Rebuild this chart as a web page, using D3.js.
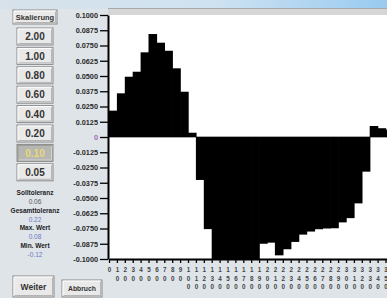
<!DOCTYPE html>
<html>
<head>
<meta charset="utf-8">
<script src="https://cdn.jsdelivr.net/npm/d3@7"></script>
<style>
  html, body { margin: 0; padding: 0; background: #dfe4e9; overflow: hidden; }
  svg { display: block; font-family: "Liberation Sans", Arial, sans-serif; }
</style>
</head>
<body>
<div id="chart"></div>
<script>
// angle categories (x) and the deviation per category
var angles = [0, 10, 20, 30, 40, 50, 60, 70, 80, 90, 100, 110, 120, 130, 140, 150, 160, 170,
  180, 190, 200, 210, 220, 230, 240, 250, 260, 270, 280, 290, 300, 310, 320, 330, 340, 350];
var values = [0.0216, 0.0358, 0.0494, 0.0535, 0.0694, 0.0844, 0.0773, 0.0707, 0.0563, 0.0371,
  0.0035, -0.0352, -0.0755, -0.104, -0.112, -0.118, -0.121, -0.114, -0.106, -0.0875,
  -0.0866, -0.097, -0.092, -0.086, -0.080, -0.0775, -0.0756, -0.0750, -0.0748, -0.0700,
  -0.0665, -0.0544, -0.0284, 0.0090, 0.0072, 0.0060];

var yTickValues = [0.1, 0.0875, 0.075, 0.0625, 0.05, 0.0375, 0.025, 0.0125, 0,
  -0.0125, -0.025, -0.0375, -0.05, -0.0625, -0.075, -0.0875, -0.1];
var yTickLabels = ['0.1000', '0.0875', '0.0750', '0.0625', '0.0500', '0.0375', '0.0250', '0.0125', '0',
  '-0.0125', '-0.0250', '-0.0375', '-0.0500', '-0.0625', '-0.0750', '-0.0875', '-0.1000'];

var scaleButtons = ['2.00', '1.00', '0.80', '0.60', '0.40', '0.20', '0.10', '0.05'];
var activeScale = '0.10';
var statLabels = ['Solltoleranz', 'Gesamttoleranz', 'Max. Wert', 'Min. Wert'];
var statValues = ['0.06', '0.22', '0.08', '-0.12'];

var W = 387, H = 298;
var svg = d3.select('#chart').append('svg').attr('width', W).attr('height', H);

// background: blue gradient strip at top
var defs = svg.append('defs');
var grad = defs.append('linearGradient').attr('id', 'topgrad');
grad.append('stop').attr('offset', '0%').attr('stop-color', '#d7e2ea');
grad.append('stop').attr('offset', '55%').attr('stop-color', '#cfe2f1');
grad.append('stop').attr('offset', '100%').attr('stop-color', '#98cbf0');
svg.append('rect').attr('width', W).attr('height', H).attr('fill', '#dfe4e9');
svg.append('rect').attr('width', W).attr('height', 9).attr('fill', 'url(#topgrad)');

var x = d3.scaleLinear().domain([0, 360]).range([109, 109 + 36 * 7.9]);
var y = d3.scaleLinear().domain([-0.1, 0.1]).range([259, 15]);

// plot frame
svg.append('rect').attr('x', 108).attr('y', 8).attr('width', W - 108).attr('height', 7)
  .attr('fill', '#d6d6d6');
svg.append('line').attr('x1', 108).attr('x2', W).attr('y1', 8.5).attr('y2', 8.5)
  .attr('stroke', '#a8a8a8');
svg.append('rect').attr('x', 108).attr('y', y(0.1)).attr('width', W - 108)
  .attr('height', y(-0.1) - y(0.1)).attr('fill', '#fff');

defs.append('clipPath').attr('id', 'plotclip').append('rect')
  .attr('x', 108).attr('y', y(0.1)).attr('width', W - 108).attr('height', y(-0.1) - y(0.1));

svg.append('line').attr('x1', 108).attr('x2', W).attr('y1', y(0)).attr('y2', y(0))
  .attr('stroke', '#555').attr('stroke-width', 1);

// bars overlap by a hair so no seams show between neighbours
svg.append('g').attr('clip-path', 'url(#plotclip)')
  .selectAll('rect').data(angles).enter().append('rect')
  .attr('x', function (d) { return x(d); })
  .attr('width', function (d) { return x(d + 10) - x(d) + 0.7; })
  .attr('y', function (d, i) { return y(Math.max(values[i], 0)); })
  .attr('height', function (d, i) { return Math.abs(y(values[i]) - y(0)); })
  .attr('fill', '#000');

// y axis
var yAxis = svg.append('g').attr('transform', 'translate(108,0)')
  .call(d3.axisLeft(y).tickValues(yTickValues).tickSize(8).tickSizeOuter(0).tickPadding(2)
    .tickFormat(function (d, i) { return yTickLabels[i]; }));
yAxis.select('.domain').attr('stroke-width', 2);
yAxis.selectAll('.tick line').attr('stroke-width', 1.3);
yAxis.selectAll('text').attr('font-size', 7.3).attr('font-weight', 'bold')
  .attr('fill', function (d) { return d === 0 ? '#a070b8' : '#2a2a2a'; });

// x axis with vertical digit labels
var xAxis = svg.append('g').attr('transform', 'translate(0,' + y(-0.1) + ')')
  .call(d3.axisBottom(x).tickValues(angles).tickSize(4).tickSizeOuter(0).tickFormat(''));
xAxis.select('.domain').attr('stroke-width', 2);
xAxis.selectAll('.tick line').attr('stroke-width', 1.3);
xAxis.selectAll('.tick').each(function (d) {
  var digits = String(d).split('');
  d3.select(this).selectAll('text.dg').data(digits).enter().append('text')
    .attr('class', 'dg')
    .attr('y', function (c, i) { return 13 + 8.5 * i; })
    .attr('text-anchor', 'middle').attr('font-size', 6.3).attr('font-weight', 'bold')
    .attr('fill', '#444').text(function (c) { return c; });
});

// left panel buttons
var button = function (bx, by, bw, bh, label, size, active) {
  var g = svg.append('g');
  g.append('rect').attr('x', bx).attr('y', by).attr('width', bw).attr('height', bh)
    .attr('fill', active ? '#b6b6b2' : '#e9e9e9').attr('stroke', '#8a8a8a');
  g.append('path').attr('d', 'M' + (bx + 1) + ',' + (by + bh - 1) + 'V' + (by + 1) + 'H' + (bx + bw - 1))
    .attr('fill', 'none').attr('stroke', active ? '#9a9a96' : '#fff');
  g.append('path').attr('d', 'M' + (bx + 1.5) + ',' + (by + bh - 1.5) + 'H' + (bx + bw - 1.5) + 'V' + (by + 1.5))
    .attr('fill', 'none').attr('stroke', active ? '#d0d0cc' : '#b4b4b4');
  g.append('text').attr('x', bx + bw / 2).attr('y', by + bh / 2).attr('dy', '0.36em')
    .attr('text-anchor', 'middle').attr('font-size', size).attr('font-weight', 'bold')
    .attr('fill', active ? '#ead87a' : '#333').text(label);
};

button(13, 10, 44, 14, 'Skalierung', 7.5, false);
scaleButtons.forEach(function (b, i) {
  button(17, 28 + 19.4 * i, 36, 17, b, 10, b === activeScale);
});

statLabels.forEach(function (s, i) {
  svg.append('text').attr('x', 35).attr('y', 195 + 17.5 * i).attr('text-anchor', 'middle')
    .attr('font-size', 6.5).attr('font-weight', 'bold').attr('fill', '#222').text(s);
  svg.append('text').attr('x', 35).attr('y', 204 + 17.5 * i).attr('text-anchor', 'middle')
    .attr('font-size', 6.5).attr('fill', i === 0 ? '#555' : '#6a78c4').text(statValues[i]);
});

button(13, 276, 41, 21, 'Weiter', 8.5, false);
button(62, 280, 40, 17, 'Abbruch', 6.8, false);
</script>
</body>
</html>
